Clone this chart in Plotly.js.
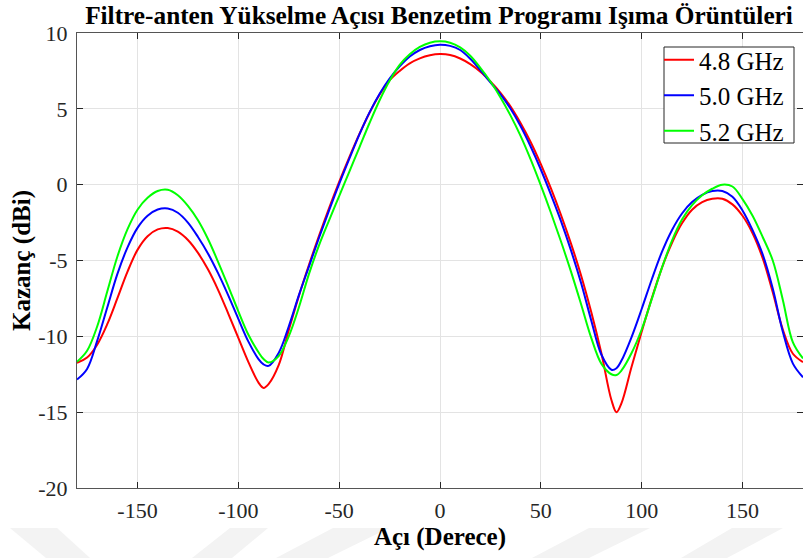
<!DOCTYPE html>
<html>
<head>
<meta charset="utf-8">
<script src="https://cdn.plot.ly/plotly-3.0.1.min.js"></script>
<style>
html,body{margin:0;padding:0;overflow:hidden;background:#fff;}
#chart{width:803px;height:558px;}
</style>
</head>
<body>
<div id="chart"></div>
<script>
// Angles (degrees)
const angles = [-180,-175,-170,-165,-160,-155,-150,-145,-140,-135,-130,-125,-120,-115,-110,-105,-100,-95,-90,-87.5,-85,-80,-75,-70,-65,-60,-55,-50,-45,-40,-35,-30,-25,-20,-15,-10,-5,0,5,10,15,20,25,30,35,40,45,50,55,60,65,70,75,80,85,87.5,90,95,100,105,110,115,120,125,130,135,140,145,150,155,160,165,170,175,180];

// Gain (dBi) per frequency
const gain48 = [-11.75,-11.4,-10.55,-9.2,-7.5,-5.75,-4.3,-3.4,-2.95,-2.86,-3.1,-3.65,-4.5,-5.6,-6.95,-8.5,-10.1,-11.7,-13.05,-13.4,-13.15,-11.9,-9.6,-7.35,-5.3,-3.38,-1.55,0.18,1.8,3.33,4.73,5.93,6.88,7.5,8.0,8.33,8.53,8.61,8.55,8.32,7.95,7.45,6.8,6.05,5.15,4.05,2.8,1.35,-0.25,-2.0,-3.9,-6.0,-8.4,-11.1,-14.2,-15.0,-14.4,-12.0,-9.7,-7.5,-5.5,-3.85,-2.55,-1.65,-1.15,-0.93,-0.93,-1.3,-2.05,-3.2,-4.85,-7.1,-9.55,-11.15,-11.7];
const gain50 = [-12.85,-12.15,-10.3,-8.1,-5.9,-4.15,-2.85,-2.05,-1.64,-1.57,-1.85,-2.5,-3.45,-4.55,-5.85,-7.3,-8.85,-10.35,-11.5,-11.85,-11.95,-11.1,-9.35,-7.3,-5.4,-3.5,-1.7,0.05,1.7,3.3,4.75,5.98,7.0,7.8,8.45,8.88,9.13,9.23,9.15,8.88,8.3,7.55,6.75,5.95,5.0,3.85,2.5,1.0,-0.65,-2.4,-4.35,-6.5,-8.95,-11.2,-12.2,-12.1,-11.6,-10.05,-8.2,-6.25,-4.45,-3.0,-1.9,-1.15,-0.67,-0.42,-0.42,-0.8,-1.7,-3.0,-4.6,-6.85,-9.7,-11.8,-12.7];
const gain52 = [-11.68,-10.95,-9.35,-7.05,-4.75,-2.95,-1.65,-0.87,-0.42,-0.34,-0.7,-1.4,-2.35,-3.6,-5.1,-6.7,-8.35,-9.9,-11.05,-11.5,-11.72,-11.3,-10.0,-8.1,-5.9,-4.0,-2.35,-0.75,0.85,2.45,4.05,5.55,6.85,7.9,8.6,9.08,9.36,9.45,9.36,9.05,8.5,7.7,6.8,5.75,4.55,3.2,1.65,-0.05,-1.85,-3.75,-5.75,-7.9,-10.1,-11.8,-12.5,-12.55,-12.25,-11.1,-9.55,-7.55,-5.5,-3.7,-2.3,-1.35,-0.7,-0.27,0.0,-0.12,-0.95,-2.05,-3.45,-5.0,-7.6,-10.4,-11.46];

const seriesNames = ['4.8 GHz','5.0 GHz','5.2 GHz'];
const seriesColors = ['#ff0000','#0000ff','#00ff00'];
const seriesValues = [gain48, gain50, gain52];

const xTicks = [-150,-100,-50,0,50,100,150];
const yTicks = [-20,-15,-10,-5,0,5,10];

const serif = "'Liberation Serif', 'Times New Roman', serif";

const traces = seriesValues.map((v,i)=>({
  x: angles, y: v, type:'scatter', mode:'lines', name: seriesNames[i],
  line:{color: seriesColors[i], width:2, shape:'spline', smoothing:1}
}));

// plot area in pixels (for converting decorative positions to paper units)
const L=77, T=33, W=726, H=455;
const px = v => (v-L)/W;
const py = v => (T+H-v)/H;

// faint watermark bands at the bottom
const bands = [
  [[10,528],[57,528],[90,558],[46,558]],
  [[230,528],[268,528],[232,558],[192,558]],
  [[333,528],[389,528],[328,558],[276,558]],
  [[589,528],[650,528],[589,558],[532,558]],
  [[732,528],[783,528],[727,558],[681,558]]
];
const shapes = bands.map(b=>({
  type:'path', xref:'paper', yref:'paper', layer:'below',
  path: b.map((p,k)=>(k?'L':'M')+px(p[0]).toFixed(4)+','+py(p[1]).toFixed(4)).join(' ')+' Z',
  fillcolor:'#f3f3f3', line:{width:0}
}));
// legend frame
shapes.push({type:'rect', xref:'paper', yref:'paper', layer:'above',
  x0:px(664), x1:px(794), y0:py(143), y1:py(47),
  fillcolor:'#ffffff', line:{color:'#262626', width:1}});

const axisCommon = {
  showline:true, linecolor:'#555555', linewidth:1, mirror:'ticks',
  ticks:'inside', ticklen:6, tickcolor:'#262626', tickwidth:1,
  showgrid:true, gridcolor:'#e3e3e3', gridwidth:1, zeroline:false,
  tickfont:{family:serif, size:22, color:'#262626'}
};

const layout = {
  width:803, height:558,
  margin:{l:77, r:0, t:33, b:70},
  paper_bgcolor:'#ffffff', plot_bgcolor:'#ffffff',
  title:{text:'<b>Filtre-anten Yükselme Açısı Benzetim Programı Işıma Örüntüleri</b>',
    font:{family:serif, size:25.3, color:'#000000'}, x:439/803, xref:'container', xanchor:'center', y:0.972, yanchor:'middle'},
  xaxis:Object.assign({}, axisCommon, {range:[-180,180], tickvals:xTicks, ticktext:xTicks.map(String), ticklabelstandoff:3,
    title:{text:'<b>Açı (Derece)</b>', font:{family:serif, size:25, color:'#000'}, standoff:5}}),
  yaxis:Object.assign({}, axisCommon, {range:[-20,10], tickvals:yTicks, ticktext:yTicks.map(String), ticklabelstandoff:4,
    title:{text:'<b>Kazanç (dBi)</b>', font:{family:serif, size:25, color:'#000'}, standoff:0}}),
  legend:{x:px(659), y:py(37), xanchor:'left', yanchor:'top', bgcolor:'rgba(0,0,0,0)', borderwidth:0,
    font:{family:serif, size:25, color:'#000'}, itemwidth:30, tracegroupgap:0},
  shapes: shapes,
  showlegend:true
};

Plotly.newPlot('chart', traces, layout, {displayModeBar:false, staticPlot:true});
</script>
</body>
</html>
